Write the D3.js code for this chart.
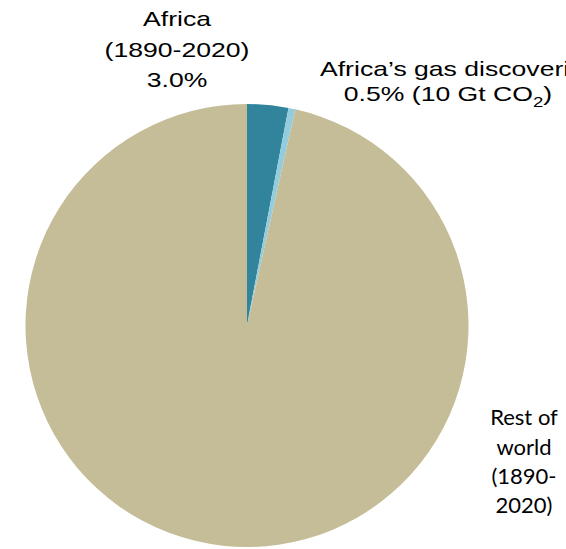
<!DOCTYPE html>
<html>
<head>
<meta charset="utf-8">
<script src="https://cdn.jsdelivr.net/npm/d3@7"></script>
<style>
  html, body { margin: 0; padding: 0; background: #fff; }
  svg { display: block; }
</style>
</head>
<body>
<div id="chart"></div>
<script>
// Shares of cumulative CO2 emissions
const categories = ["Africa (1890-2020)", "Africa’s gas discoveries", "Rest of world (1890-2020)"];
const shares = [3.0, 0.5, 96.5];
const colors = ["#31849B", "#93CDDD", "#C4BD97"];

const width = 566, height = 549;
const cx = 247, cy = 325.5, radius = 221.5;

const svg = d3.select("#chart").append("svg")
  .attr("width", width)
  .attr("height", height);

const data = categories.map((c, i) => ({ name: c, value: shares[i], color: colors[i] }));

const pie = d3.pie().sort(null).value(d => d.value);
const arc = d3.arc().innerRadius(0).outerRadius(radius);

svg.append("g")
  .attr("transform", `translate(${cx},${cy})`)
  .selectAll("path")
  .data(pie(data))
  .join("path")
  .attr("d", arc)
  .attr("fill", d => d.data.color);

// Slice labels (wide sans face)
const fmt = v => v.toFixed(1) + "%";
const sx = 1.33;

function sansLabel(x, lines) {
  const g = svg.append("g")
    .attr("transform", `translate(${x},0) scale(${sx},1)`)
    .attr("font-family", "'Liberation Sans', Arial, sans-serif")
    .attr("font-size", 20)
    .attr("fill", "#000")
    .attr("text-anchor", "middle");
  return lines.map(l => g.append("text").attr("x", 0).attr("y", l.y).text(l.text));
}

sansLabel(177, [
  { text: "Africa", y: 26.5 },
  { text: "(1890-2020)", y: 57 },
  { text: fmt(shares[0]), y: 87.5 }
]);

const gas = sansLabel(448, [
  { text: categories[1], y: 76 },
  { text: "", y: 101 }
]);
gas[0].attr("text-anchor", "start").attr("x", (320 - 448) / sx);
const t2 = gas[1];
t2.append("tspan").text(fmt(shares[1]) + " (10 Gt CO");
t2.append("tspan").attr("font-size", 14).attr("dy", 6).text("2");
t2.append("tspan").attr("dy", -6).text(")");

// Rest-of-world label
const rw = svg.append("g")
  .attr("font-family", "Lato, 'Noto Sans', sans-serif")
  .attr("font-size", 22)
  .attr("fill", "#000")
  .attr("text-anchor", "middle");
[["Rest of", 425], ["world", 455], ["(1890-", 484], ["2020)", 513]].forEach(([t, y]) => {
  rw.append("text").attr("x", 524).attr("y", y).text(t);
});
</script>
</body>
</html>
